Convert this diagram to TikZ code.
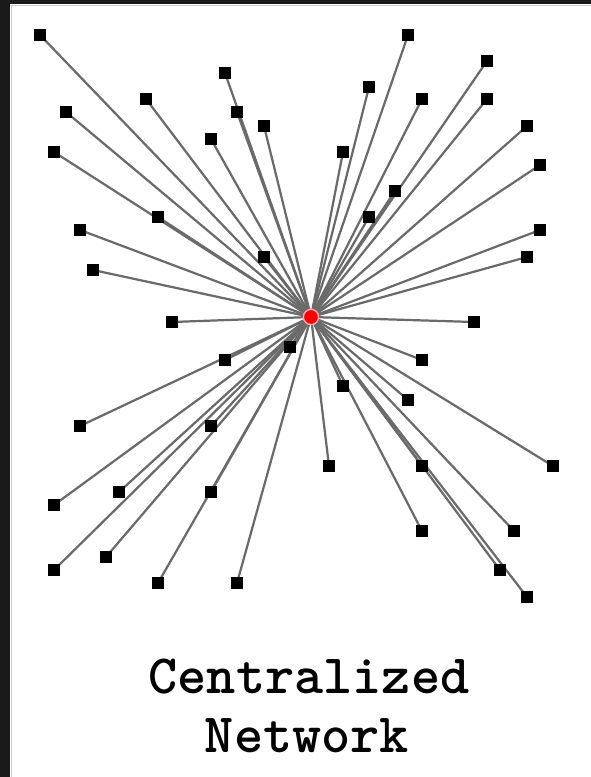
\documentclass[tikz,border=0pt]{standalone}
\usepackage{tikz}
\usetikzlibrary{backgrounds}

\definecolor{frame}{HTML}{1A1A1A}
\definecolor{linkgray}{HTML}{6A6A6A}

\tikzset{
    leaf/.style={rectangle, fill=black, minimum size=10pt, inner sep=0pt},
    hub/.style={circle, fill=red, draw=red!35, line width=1.2pt, minimum size=13pt, inner sep=0pt},
    link/.style={draw=linkgray, line width=1.9pt},
    caption/.style={anchor=base, font=\ttfamily\bfseries\fontsize{47.4}{50}\selectfont}
}

\begin{document}
\begin{tikzpicture}[x=0.03cm,y=-0.03cm]
            % Page and dark frame
            \useasboundingbox (0,0) rectangle (591,777);
            \begin{scope}[on background layer]
                \fill[white] (0,0) rectangle (591,777);
            \end{scope}
            \fill[frame] (0,0) rectangle (591,4);
            \fill[frame] (0,0) rectangle (10,777);
            \draw[gray!40, line width=0.6pt] (10,5) -- (591,5);
            \draw[gray!40, line width=0.6pt] (11,5) -- (11,777);

            % Central node
            \node[hub] (hub) at (311,317) {};

            % Outer nodes and their links to the centre
            \foreach \i/\x/\y in {1/40/35, 2/408/35, 3/225/73, 4/487/61, 5/146/99,
                                  6/66/112, 7/237/112, 8/369/87, 9/422/99, 10/487/99,
                                  11/264/126, 12/211/139, 13/527/126, 14/54/152, 15/343/152,
                                  16/540/165, 17/395/191, 18/158/217, 19/369/217, 20/80/230,
                                  21/540/230, 22/527/257, 23/264/257, 24/93/270, 25/172/322,
                                  26/474/322, 27/225/360, 28/290/347, 29/422/360, 30/343/386,
                                  31/408/400, 32/80/426, 33/211/426, 34/329/466, 35/422/466,
                                  36/553/466, 37/54/505, 38/119/492, 39/211/492, 40/422/531,
                                  41/514/531, 42/106/557, 43/54/570, 44/500/570, 45/158/583,
                                  46/237/583, 47/527/597}
                {
                    \node[leaf] (n\i) at (\x,\y) {};
                    \begin{scope}[on background layer]
                        \draw[link] (hub.center) -- (n\i.center);
                    \end{scope}
                }

            % Caption
            \node[caption] (title) at (309,693) {Centralized};
            \node[caption] (subtitle) at (307,752) {Network};

        \end{tikzpicture}
\end{document}
